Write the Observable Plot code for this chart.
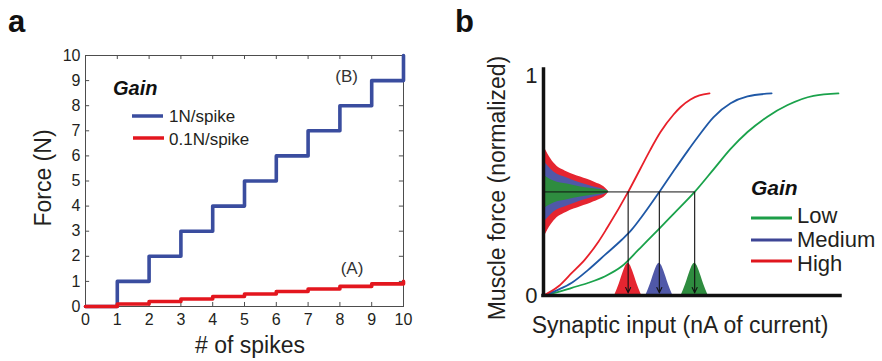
<!DOCTYPE html>
<html><head><meta charset="utf-8">
<script src="https://cdn.jsdelivr.net/npm/d3@7"></script>
<script src="https://cdn.jsdelivr.net/npm/@observablehq/plot@0.6"></script>
<style>
html,body{margin:0;padding:0;background:#fff;}
#wrap{position:relative;width:882px;height:361px;overflow:hidden;background:#fff;}
#pa,#pb{position:absolute;top:0;}
#pa{left:0;} #pb{left:440px;}
svg{display:block;}
</style></head><body>
<div id="wrap"><div id="pa"></div><div id="pb"></div></div>
<script>
// ---------- Panel a data ----------
const spikeCounts   = [0, 1, 2, 3, 4, 5, 6, 7, 8, 9, 10];
const forceGain1N   = [0, 1, 2, 3, 4, 5, 6, 7, 8, 9, 10];
const forceGain01N  = [0, 0.1, 0.2, 0.3, 0.4, 0.5, 0.6, 0.7, 0.8, 0.9, 1.0];
const spikeTicks    = [0, 1, 2, 3, 4, 5, 6, 7, 8, 9, 10];
const forceTicks    = [0, 1, 2, 3, 4, 5, 6, 7, 8, 9, 10];
const gainLabelsA   = ["1N/spike", "0.1N/spike"];

// ---------- Panel b data ----------
const gainLevels = ["Low", "Medium", "High"];
const forceAxisTicks = [0, 1];
const inputHigh   = [0, 0.505, 0.953, 1.40, 1.85, 2.13, 2.85, 3.27, 3.60, 3.94, 4.38, 4.61, 4.95, 5.25, 5.59];
const forceHigh   = [0, 0.042, 0.103, 0.165, 0.245, 0.305, 0.472, 0.58, 0.665, 0.745, 0.825, 0.858, 0.893, 0.912, 0.921];
const inputMedium = [0, 0.505, 0.953, 1.515, 2.077, 2.636, 2.97, 3.27, 3.90, 4.38, 4.85, 5.19, 5.72, 6.30, 6.87, 7.68];
const forceMedium = [0, 0.027, 0.058, 0.118, 0.186, 0.254, 0.30, 0.352, 0.472, 0.567, 0.658, 0.721, 0.812, 0.876, 0.907, 0.921];
const inputLow    = [0, 0.505, 0.953, 1.515, 2.077, 2.636, 3.2, 3.94, 4.38, 5.09, 5.74, 6.30, 6.87, 7.54, 8.22, 9.09, 9.93];
const forceLow    = [0, 0.016, 0.035, 0.058, 0.088, 0.133, 0.209, 0.31, 0.372, 0.472, 0.577, 0.668, 0.745, 0.815, 0.868, 0.91, 0.921];

const forceLevel  = 0.472;                 // common target force
const crossInputs = [2.85, 3.90, 5.09];    // High, Medium, Low input needed

// force distribution on the y axis (half-widths by gain)
const distForceX     = [0, 0.15, 0.35, 0.8, 1.25, 1.7, 2.15, 2.2];
const distHalfHigh   = [0.213, 0.172, 0.132, 0.091, 0.068, 0.045, 0.009, 0];
const distHalfMedium = [0.141, 0.118, 0.091, 0.064, 0.041, 0.023, 0.005, 0];
const distHalfLow    = [0.077, 0.064, 0.050, 0.036, 0.023, 0.014, 0.005, 0];

// input distributions on the x axis
const bumpOffsets = [-0.44, -0.37, -0.3, -0.22, -0.15, -0.07, 0, 0.07, 0.15, 0.22, 0.3, 0.37, 0.44];
const bumpHeights = [0.004, 0.027, 0.052, 0.085, 0.113, 0.138, 0.147, 0.138, 0.113, 0.085, 0.052, 0.027, 0.004];

// ---------- styles ----------
const FF = "'Liberation Sans', Arial, Helvetica, sans-serif";
const TXT = "#231f20";
const BLUE_A = "#3a4d9f", RED_A = "#e3161e";
const C_LINE = {High: "#e8202a", Medium: "#1f58a6", Low: "#1aa24b"};
const C_FILL = {High: "#e52530", Medium: "#5058a8", Low: "#2e8c3f"};
const C_LEG  = {High: "#e0161e", Medium: "#3d4595", Low: "#1c9e48"};

function addText(svg, {x, y, text, size, weight = "normal", style = "normal", anchor = "start", rotate = 0, fill = TXT}) {
  d3.select(svg).append("text")
    .attr("transform", `translate(${x},${y})` + (rotate ? ` rotate(${rotate})` : ""))
    .attr("text-anchor", anchor)
    .attr("font-family", FF)
    .attr("font-size", size)
    .attr("font-weight", weight)
    .attr("font-style", style)
    .attr("fill", fill)
    .text(text);
}
function addSwatch(svg, x1, x2, y, color, w) {
  d3.select(svg).append("line")
    .attr("x1", x1).attr("x2", x2).attr("y1", y).attr("y2", y)
    .attr("stroke", color).attr("stroke-width", w);
}

// ---------- Panel a ----------
const stepsA = spikeCounts.map((s, i) => ({s, f1: forceGain1N[i], f01: forceGain01N[i]}));
const FR = "#4d4d4d";
const plotA = Plot.plot({
  width: 440, height: 361,
  marginLeft: 85, marginRight: 37, marginTop: 55, marginBottom: 55,
  style: {fontFamily: FF, background: "white", color: TXT},
  x: {domain: [0, 10]},
  y: {domain: [0, 10]},
  marks: [
    Plot.frame({stroke: FR, strokeWidth: 1}),
    Plot.ruleX(spikeTicks, {x: d => d, y1: 0, y2: 0.16, stroke: FR}),
    Plot.ruleX(spikeTicks, {x: d => d, y1: 9.84, y2: 10, stroke: FR}),
    Plot.ruleY(forceTicks, {y: d => d, x1: 0, x2: 0.13, stroke: FR}),
    Plot.ruleY(forceTicks, {y: d => d, x1: 9.87, x2: 10, stroke: FR}),
    Plot.axisX({ticks: spikeTicks, tickSize: 0, tickPadding: 7, fontSize: 16, label: null, tickFormat: d => String(d)}),
    Plot.axisY({ticks: forceTicks, tickSize: 0, tickPadding: 5, fontSize: 16, label: null, tickFormat: d => String(d)}),
    Plot.line(stepsA, {x: "s", y: "f1", curve: "step-after", stroke: BLUE_A, strokeWidth: 3.6}),
    Plot.line(stepsA, {x: "s", y: "f01", curve: "step-after", stroke: RED_A, strokeWidth: 3.6}),
    Plot.text(["(B)"], {x: () => 8.21, y: () => 9.17, text: d => d, fontSize: 17, fill: "#333"}),
    Plot.text(["(A)"], {x: () => 8.38, y: () => 1.53, text: d => d, fontSize: 17, fill: "#333"})
  ]
});
document.getElementById("pa").appendChild(plotA);
addText(plotA, {x: 8, y: 32, text: "a", size: 31, weight: "bold", fill: "#111"});
addText(plotA, {x: 51, y: 178, text: "Force (N)", size: 23, anchor: "middle", rotate: -90});
addText(plotA, {x: 250, y: 353, text: "# of spikes", size: 23, anchor: "middle"});
addText(plotA, {x: 113, y: 95, text: "Gain", size: 20, weight: "bold", style: "italic", fill: "#111"});
addSwatch(plotA, 132, 163, 116, BLUE_A, 3.5);
addSwatch(plotA, 133, 164, 138, RED_A, 3.5);
addText(plotA, {x: 169, y: 122, text: gainLabelsA[0], size: 17});
addText(plotA, {x: 169, y: 145, text: gainLabelsA[1], size: 17});

// ---------- Panel b ----------
const curveRows = (xs, ys) => xs.map((x, i) => ({x, y: ys[i]}));
const curves = {High: curveRows(inputHigh, forceHigh), Medium: curveRows(inputMedium, forceMedium), Low: curveRows(inputLow, forceLow)};
const distRows = (halfs) => distForceX.map((x, i) => ({x, lo: forceLevel - halfs[i], hi: forceLevel + halfs[i]}));
const dists = {High: distRows(distHalfHigh), Medium: distRows(distHalfMedium), Low: distRows(distHalfLow)};
const crossByGain = {High: crossInputs[0], Medium: crossInputs[1], Low: crossInputs[2]};
const bumps = {};
for (const g of gainLevels) bumps[g] = bumpOffsets.map((o, i) => ({x: crossByGain[g] + o, h: bumpHeights[i]}));

const plotB = Plot.plot({
  width: 442, height: 361,
  marginLeft: 103, marginRight: 42, marginTop: 69, marginBottom: 66,
  style: {fontFamily: FF, background: "white", color: TXT},
  x: {domain: [0, 10], axis: null},
  y: {domain: [0, 1.03]},
  marks: [
    ...["High", "Medium", "Low"].map(g =>
      Plot.areaY(dists[g], {x: "x", y1: "lo", y2: "hi", fill: C_FILL[g], curve: "monotone-x"})),
    ...gainLevels.map(g =>
      Plot.areaY(bumps[g], {x: "x", y1: 0, y2: "h", fill: C_FILL[g], curve: "monotone-x"})),
    ...["Low", "Medium", "High"].map(g =>
      Plot.line(curves[g], {x: "x", y: "y", stroke: C_LINE[g], strokeWidth: 1.8, curve: "monotone-x"})),
    Plot.ruleY([forceLevel], {x1: 0, x2: crossInputs[2], stroke: "#111", strokeWidth: 1}),
    Plot.arrow(crossInputs, {x1: d => d, x2: d => d, y1: () => forceLevel, y2: () => 0.012,
      stroke: "#111", strokeWidth: 1.1, headLength: 8, headAngle: 50}),
    Plot.ruleX([0], {stroke: "#111", strokeWidth: 3.5, strokeLinecap: "square"}),
    Plot.ruleY([0], {stroke: "#111", strokeWidth: 3.5, strokeLinecap: "square"}),
    Plot.axisY({ticks: forceAxisTicks, tickSize: 0, tickPadding: 6, fontSize: 22, label: null, tickFormat: d => String(d)})
  ]
});
document.getElementById("pb").appendChild(plotB);
addText(plotB, {x: 15, y: 32, text: "b", size: 31, weight: "bold", fill: "#111"});
addText(plotB, {x: 65, y: 188, text: "Muscle force (normalized)", size: 23, anchor: "middle", rotate: -90});
addText(plotB, {x: 240, y: 333, text: "Synaptic input (nA of current)", size: 23, anchor: "middle"});
addText(plotB, {x: 311, y: 195, text: "Gain", size: 21, weight: "bold", style: "italic", fill: "#111"});
const legY = {Low: 218, Medium: 240, High: 261};
const legBase = {Low: 223, Medium: 247, High: 271};
for (const g of gainLevels) {
  addSwatch(plotB, 311, 352, legY[g], C_LEG[g], 3.2);
  addText(plotB, {x: 357, y: legBase[g], text: g, size: 22});
}
</script></body></html>
